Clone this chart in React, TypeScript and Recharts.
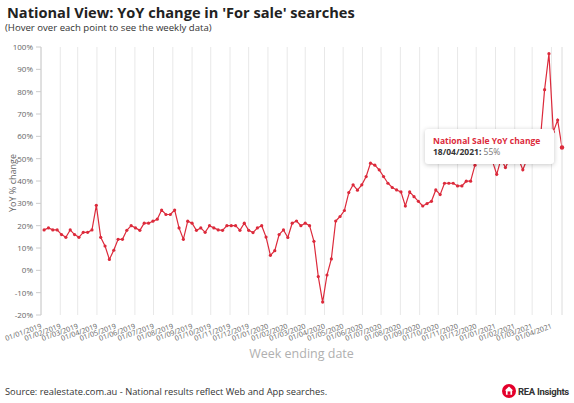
import { CartesianGrid, Line, LineChart, Tooltip, XAxis, YAxis } from "recharts";

// weekly national YoY change in 'For sale' searches (%), week ending Sunday
const firstWeekEnding = "06/01/2019";
const yoyChange = [
  18.1, 19, 18.1, 18.1, 16, 14.8, 18.1, 16, 14.8, 17, 17, 18.1, 29.1, 14.8, 10.9, 4.9, 9, 13.9, 13.9, 17.9,
  20, 19, 17.9, 21.1, 21.1, 22, 22.9, 27, 25, 25, 27, 19, 13.9, 22, 21.1, 17.9, 19, 17, 20, 19,
  18.1, 17.9, 20, 20, 20, 17.9, 21.1, 17.9, 16.9, 19, 20, 14.9, 6.7, 8.8, 16, 18.1, 14.7, 21.1, 22.1, 20,
  21.1, 20, 13, -2.8, -14.2, -2.1, 5.1, 22.1, 24.1, 26.8, 34.8, 38.3, 35.9, 38.3, 42, 48, 47.1, 45, 42, 39,
  37.1, 36, 35.1, 28.8, 35.1, 33, 30.9, 28.8, 29.9, 30.9, 36, 33.9, 39, 39, 39, 37.8, 37.8, 39.9, 39.9, 47.1,
  52, 50, 53, 49, 43, 50, 46, 50, 53, 50, 45, 50, 52, 56, 58, 80.9, 97, 62, 67.3, 55
];
const monthTicks = [
  "01/01/2019", "01/02/2019", "01/03/2019", "01/04/2019", "01/05/2019", "01/06/2019", "01/07/2019",
  "01/08/2019", "01/09/2019", "01/10/2019", "01/11/2019", "01/12/2019", "01/01/2020", "01/02/2020",
  "01/03/2020", "01/04/2020", "01/05/2020", "01/06/2020", "01/07/2020", "01/08/2020", "01/09/2020",
  "01/10/2020", "01/11/2020", "01/12/2020", "01/01/2021", "01/02/2021", "01/03/2021", "01/04/2021"
];
const yTicks = [-20, -10, 0, 10, 20, 30, 40, 50, 60, 70, 80, 90, 100];

const RED = "#dc2a3b";
const FONT = "'Open Sans', sans-serif";
const DAY_MS = 86400000;

const parseDay = (s: string) => {
  const [d, m, y] = s.split("/").map(Number);
  return Date.UTC(y, m - 1, d) / DAY_MS;
};

const formatDay = (day: number) => {
  const dt = new Date(day * DAY_MS);
  const dd = String(dt.getUTCDate()).padStart(2, "0");
  const mm = String(dt.getUTCMonth() + 1).padStart(2, "0");
  return `${dd}/${mm}/${dt.getUTCFullYear()}`;
};

const startDay = parseDay(firstWeekEnding);
const data = yoyChange.map((value, i) => ({ day: startDay + i * 7, value }));
const tickDays = monthTicks.map(parseDay);

const DateTick = ({ x, y, payload }: any) => (
  <text
    x={x + 1}
    y={y + 11}
    transform={`rotate(-20, ${x + 1}, ${y + 11})`}
    textAnchor="end"
    fontSize={7.2}
    fill="#666"
    fontFamily={FONT}
  >
    {formatDay(payload.value)}
  </text>
);

const SaleTooltip = ({ active, payload }: any) => {
  if (!active || !payload || !payload.length) return null;
  const p = payload[0].payload;
  return (
    <div
      style={{
        background: "#fff",
        borderRadius: 3,
        boxShadow: "0 1px 5px rgba(0,0,0,0.22)",
        width: 129,
        height: 35,
        boxSizing: "border-box",
        padding: "6px 8px",
        fontFamily: FONT,
        fontSize: 8.5,
        lineHeight: "11px"
      }}
    >
      <div style={{ color: RED, fontWeight: 700 }}>National Sale YoY change</div>
      <div>
        <span style={{ color: "#333", fontWeight: 700 }}>{formatDay(p.day)}:</span>
        <span style={{ color: "#777" }}> {p.value}%</span>
      </div>
    </div>
  );
};

const ReaLogo = () => (
  <svg width={14} height={14} viewBox="0 0 14 14">
    <circle cx={7} cy={7} r={7} fill="#e4002b" />
    <path d="M7 2.6 L11.2 6.4 L10.1 6.4 L10.1 10.8 L3.9 10.8 L3.9 6.4 L2.8 6.4 Z" fill="#fff" />
    <rect x={5.6} y={7.4} width={2.8} height={3.4} fill="#e4002b" />
  </svg>
);

export default function App() {
  return (
    <div style={{ position: "relative", width: 574, height: 403, background: "#fff", fontFamily: FONT }}>
      <style>{`body{margin:0}`}</style>
      <div style={{ position: "absolute", left: 7, top: 2, fontSize: 14.6, fontWeight: 700, color: "#222", whiteSpace: "nowrap" }}>
        National View: YoY change in 'For sale' searches
      </div>
      <div style={{ position: "absolute", left: 5, top: 21, fontSize: 9.6, color: "#333", whiteSpace: "nowrap" }}>
        (Hover over each point to see the weekly data)
      </div>
      <div
        style={{
          position: "absolute",
          left: 12,
          top: 183,
          transform: "translate(-50%, -50%) rotate(-90deg)",
          fontSize: 9,
          color: "#666",
          whiteSpace: "nowrap"
        }}
      >
        YoY % change
      </div>

      <LineChart width={574} height={403} data={data} margin={{ top: 47, right: 12, bottom: 48, left: 0 }}>
        <CartesianGrid horizontal={false} stroke="#e8e8e8" />
        <XAxis
          dataKey="day"
          type="number"
          domain={[tickDays[0], data[data.length - 1].day]}
          ticks={tickDays}
          tick={<DateTick />}
          tickLine={false}
          axisLine={false}
          tickSize={0}
          height={40}
          interval={0}
          label={{ value: "Week ending date", position: "insideBottom", offset: -3, fill: "#b0b0b0", fontSize: 12.5, fontFamily: FONT }}
        />
        <YAxis
          domain={[-20, 100]}
          ticks={yTicks}
          interval={0}
          width={41}
          tickFormatter={(v: number) => `${v}%`}
          tick={{ fontSize: 8, fill: "#666", fontFamily: FONT }}
          tickSize={5}
          tickMargin={3}
          stroke="#ccc"
        />
        <Tooltip
          content={<SaleTooltip />}
          defaultIndex={data.length - 1}
          active
          position={{ x: 425, y: 129 }}
          cursor={{ stroke: "#e8e8e8", strokeWidth: 1 }}
          isAnimationActive={false}
        />
        <Line
          type="linear"
          dataKey="value"
          stroke={RED}
          strokeWidth={1.2}
          dot={{ r: 1.6, fill: RED, stroke: "none" }}
          activeDot={{ r: 2.2, fill: RED, stroke: "none" }}
          isAnimationActive={false}
        />
      </LineChart>

      <div style={{ position: "absolute", left: 5, top: 385, fontSize: 9.3, color: "#333", whiteSpace: "nowrap" }}>
        Source: realestate.com.au - National results reflect Web and App searches.
      </div>
      <div style={{ position: "absolute", left: 502, top: 384, display: "flex", alignItems: "center", gap: 2 }}>
        <ReaLogo />
        <span style={{ fontFamily: "Roboto, sans-serif", fontWeight: 700, fontSize: 9.5, color: "#333", letterSpacing: -0.3 }}>
          REA Insights
        </span>
      </div>
    </div>
  );
}
